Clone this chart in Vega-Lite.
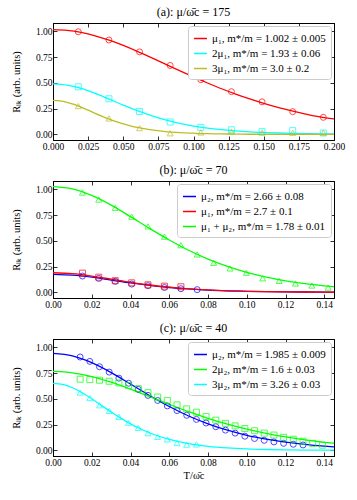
{
  "$schema": "https://vega.github.io/schema/vega-lite/v6.json",
  "padding": {"left": 10, "right": 4, "top": 5, "bottom": 4},
  "spacing": 12,
  "config": {
    "font": "Liberation Serif",
    "view": {"stroke": "black", "strokeWidth": 1},
    "axis": {"domainColor": "black", "domainWidth": 1, "tickColor": "black", "tickSize": -4, "tickWidth": 0.8, "labelFontSize": 9.5, "labelColor": "black", "grid": false, "labelFont": "Liberation Serif", "titleFont": "Liberation Serif", "titleFontWeight": "normal", "titleFontSize": 10.5, "titleColor": "black", "labelPadding": 5, "labelFlush": false, "labelOverlap": false},
    "legend": {"orient": "top-right", "offset": 3, "fillColor": "white", "strokeColor": "#cccccc", "padding": 5, "cornerRadius": 3, "symbolType": "stroke", "symbolStrokeWidth": 1.5, "symbolSize": 170, "labelFontSize": 11, "labelFont": "Liberation Serif", "labelColor": "black", "rowPadding": 2, "labelLimit": 300},
    "title": {"fontSize": 12, "fontWeight": "normal", "font": "Liberation Serif", "color": "black", "offset": 4}
  },
  "datasets": {
    "ca": [
      {"T": 0, "R": 1.015, "s": "a1"}, {"T": 0.01, "R": 1.008, "s": "a1"}, {"T": 0.02, "R": 0.988, "s": "a1"}, {"T": 0.03, "R": 0.956, "s": "a1"}, {"T": 0.04, "R": 0.913, "s": "a1"}, {"T": 0.05, "R": 0.862, "s": "a1"}, {"T": 0.06, "R": 0.805, "s": "a1"}, {"T": 0.07, "R": 0.744, "s": "a1"}, {"T": 0.08, "R": 0.681, "s": "a1"}, {"T": 0.09, "R": 0.618, "s": "a1"}, {"T": 0.1, "R": 0.557, "s": "a1"}, {"T": 0.11, "R": 0.498, "s": "a1"}, {"T": 0.12, "R": 0.442, "s": "a1"}, {"T": 0.13, "R": 0.391, "s": "a1"}, {"T": 0.14, "R": 0.344, "s": "a1"}, {"T": 0.15, "R": 0.301, "s": "a1"}, {"T": 0.16, "R": 0.262, "s": "a1"}, {"T": 0.17, "R": 0.228, "s": "a1"}, {"T": 0.18, "R": 0.197, "s": "a1"}, {"T": 0.19, "R": 0.170, "s": "a1"}, {"T": 0.2, "R": 0.150, "s": "a1"},
      {"T": 0, "R": 0.49, "s": "a2"}, {"T": 0.01, "R": 0.478, "s": "a2"}, {"T": 0.02, "R": 0.446, "s": "a2"}, {"T": 0.03, "R": 0.398, "s": "a2"}, {"T": 0.04, "R": 0.342, "s": "a2"}, {"T": 0.05, "R": 0.284, "s": "a2"}, {"T": 0.06, "R": 0.230, "s": "a2"}, {"T": 0.07, "R": 0.182, "s": "a2"}, {"T": 0.08, "R": 0.140, "s": "a2"}, {"T": 0.09, "R": 0.106, "s": "a2"}, {"T": 0.1, "R": 0.080, "s": "a2"}, {"T": 0.11, "R": 0.060, "s": "a2"}, {"T": 0.12, "R": 0.045, "s": "a2"}, {"T": 0.13, "R": 0.033, "s": "a2"}, {"T": 0.14, "R": 0.024, "s": "a2"}, {"T": 0.15, "R": 0.018, "s": "a2"}, {"T": 0.16, "R": 0.013, "s": "a2"}, {"T": 0.17, "R": 0.010, "s": "a2"}, {"T": 0.18, "R": 0.007, "s": "a2"}, {"T": 0.19, "R": 0.005, "s": "a2"}, {"T": 0.2, "R": 0.004, "s": "a2"},
      {"T": 0, "R": 0.33, "s": "a3"}, {"T": 0.005, "R": 0.325, "s": "a3"}, {"T": 0.01, "R": 0.311, "s": "a3"}, {"T": 0.015, "R": 0.290, "s": "a3"}, {"T": 0.02, "R": 0.264, "s": "a3"}, {"T": 0.025, "R": 0.2345, "s": "a3"}, {"T": 0.03, "R": 0.204, "s": "a3"}, {"T": 0.035, "R": 0.175, "s": "a3"}, {"T": 0.04, "R": 0.148, "s": "a3"}, {"T": 0.045, "R": 0.123, "s": "a3"}, {"T": 0.05, "R": 0.101, "s": "a3"}, {"T": 0.055, "R": 0.083, "s": "a3"}, {"T": 0.06, "R": 0.067, "s": "a3"}, {"T": 0.07, "R": 0.043, "s": "a3"}, {"T": 0.08, "R": 0.027, "s": "a3"}, {"T": 0.09, "R": 0.017, "s": "a3"}, {"T": 0.1, "R": 0.011, "s": "a3"}, {"T": 0.11, "R": 0.006, "s": "a3"}, {"T": 0.12, "R": 0.004, "s": "a3"}, {"T": 0.13, "R": 0.002, "s": "a3"}, {"T": 0.14, "R": 0.001, "s": "a3"}, {"T": 0.16, "R": 0.0005, "s": "a3"}, {"T": 0.18, "R": 0.0002, "s": "a3"}, {"T": 0.2, "R": 0.0001, "s": "a3"}
    ],
    "pa": [
      {"T": 0.018, "R": 0.995, "p": "a1"}, {"T": 0.0398, "R": 0.915, "p": "a1"}, {"T": 0.0616, "R": 0.80, "p": "a1"}, {"T": 0.0834, "R": 0.668, "p": "a1"}, {"T": 0.1052, "R": 0.530, "p": "a1"}, {"T": 0.127, "R": 0.414, "p": "a1"}, {"T": 0.1488, "R": 0.315, "p": "a1"}, {"T": 0.1706, "R": 0.220, "p": "a1"}, {"T": 0.1924, "R": 0.165, "p": "a1"},
      {"T": 0.018, "R": 0.461, "p": "a2"}, {"T": 0.0398, "R": 0.345, "p": "a2"}, {"T": 0.0616, "R": 0.221, "p": "a2"}, {"T": 0.0834, "R": 0.12, "p": "a2"}, {"T": 0.1052, "R": 0.068, "p": "a2"}, {"T": 0.127, "R": 0.044, "p": "a2"}, {"T": 0.1488, "R": 0.026, "p": "a2"}, {"T": 0.1706, "R": 0.036, "p": "a2"}, {"T": 0.1924, "R": 0.013, "p": "a2"},
      {"T": 0.018, "R": 0.274, "p": "a3"}, {"T": 0.0398, "R": 0.154, "p": "a3"}, {"T": 0.0616, "R": 0.06, "p": "a3"}, {"T": 0.0834, "R": 0.01, "p": "a3"}, {"T": 0.1052, "R": 0.018, "p": "a3"}, {"T": 0.127, "R": 0.028, "p": "a3"}, {"T": 0.1488, "R": 0.017, "p": "a3"}, {"T": 0.1706, "R": 0.015, "p": "a3"}, {"T": 0.1924, "R": 0.016, "p": "a3"}
    ],
    "cb": [
      {"T": 0, "R": 0.175, "s": "b1"}, {"T": 0.01, "R": 0.167, "s": "b1"}, {"T": 0.02, "R": 0.147, "s": "b1"}, {"T": 0.03, "R": 0.119, "s": "b1"}, {"T": 0.04, "R": 0.091, "s": "b1"}, {"T": 0.05, "R": 0.067, "s": "b1"}, {"T": 0.06, "R": 0.047, "s": "b1"}, {"T": 0.07, "R": 0.033, "s": "b1"}, {"T": 0.08, "R": 0.022, "s": "b1"}, {"T": 0.09, "R": 0.015, "s": "b1"}, {"T": 0.1, "R": 0.010, "s": "b1"}, {"T": 0.11, "R": 0.006, "s": "b1"}, {"T": 0.12, "R": 0.004, "s": "b1"}, {"T": 0.13, "R": 0.003, "s": "b1"}, {"T": 0.14, "R": 0.002, "s": "b1"}, {"T": 0.145, "R": 0.001, "s": "b1"},
      {"T": 0, "R": 0.19, "s": "b2"}, {"T": 0.01, "R": 0.181, "s": "b2"}, {"T": 0.02, "R": 0.158, "s": "b2"}, {"T": 0.03, "R": 0.128, "s": "b2"}, {"T": 0.04, "R": 0.097, "s": "b2"}, {"T": 0.05, "R": 0.071, "s": "b2"}, {"T": 0.06, "R": 0.050, "s": "b2"}, {"T": 0.07, "R": 0.034, "s": "b2"}, {"T": 0.08, "R": 0.023, "s": "b2"}, {"T": 0.09, "R": 0.015, "s": "b2"}, {"T": 0.1, "R": 0.010, "s": "b2"}, {"T": 0.11, "R": 0.006, "s": "b2"}, {"T": 0.12, "R": 0.004, "s": "b2"}, {"T": 0.13, "R": 0.003, "s": "b2"}, {"T": 0.14, "R": 0.002, "s": "b2"}, {"T": 0.145, "R": 0.001, "s": "b2"},
      {"T": 0, "R": 1.026, "s": "b3"}, {"T": 0.01, "R": 1.004, "s": "b3"}, {"T": 0.02, "R": 0.940, "s": "b3"}, {"T": 0.03, "R": 0.846, "s": "b3"}, {"T": 0.04, "R": 0.734, "s": "b3"}, {"T": 0.05, "R": 0.618, "s": "b3"}, {"T": 0.06, "R": 0.508, "s": "b3"}, {"T": 0.07, "R": 0.408, "s": "b3"}, {"T": 0.08, "R": 0.322, "s": "b3"}, {"T": 0.09, "R": 0.251, "s": "b3"}, {"T": 0.1, "R": 0.193, "s": "b3"}, {"T": 0.11, "R": 0.147, "s": "b3"}, {"T": 0.12, "R": 0.112, "s": "b3"}, {"T": 0.13, "R": 0.084, "s": "b3"}, {"T": 0.14, "R": 0.063, "s": "b3"}, {"T": 0.145, "R": 0.054, "s": "b3"}
    ],
    "pb": [
      {"T": 0.0152, "R": 0.158, "p": "b1"}, {"T": 0.0236, "R": 0.135, "p": "b1"}, {"T": 0.0321, "R": 0.107, "p": "b1"}, {"T": 0.0406, "R": 0.08, "p": "b1"}, {"T": 0.049, "R": 0.064, "p": "b1"}, {"T": 0.0575, "R": 0.047, "p": "b1"}, {"T": 0.066, "R": 0.035, "p": "b1"}, {"T": 0.0744, "R": 0.026, "p": "b1"},
      {"T": 0.0152, "R": 0.186, "p": "b2"}, {"T": 0.0236, "R": 0.147, "p": "b2"}, {"T": 0.0321, "R": 0.113, "p": "b2"}, {"T": 0.0406, "R": 0.092, "p": "b2"}, {"T": 0.049, "R": 0.073, "p": "b2"}, {"T": 0.0575, "R": 0.06, "p": "b2"}, {"T": 0.066, "R": 0.054, "p": "b2"},
      {"T": 0.0152, "R": 0.968, "p": "b3"}, {"T": 0.0236, "R": 0.90, "p": "b3"}, {"T": 0.0321, "R": 0.82, "p": "b3"}, {"T": 0.0406, "R": 0.734, "p": "b3"}, {"T": 0.049, "R": 0.64, "p": "b3"}, {"T": 0.0575, "R": 0.54, "p": "b3"}, {"T": 0.066, "R": 0.457, "p": "b3"}, {"T": 0.0744, "R": 0.367, "p": "b3"}, {"T": 0.0829, "R": 0.286, "p": "b3"}, {"T": 0.0913, "R": 0.232, "p": "b3"}, {"T": 0.0998, "R": 0.19, "p": "b3"}, {"T": 0.1082, "R": 0.136, "p": "b3"}, {"T": 0.1167, "R": 0.111, "p": "b3"}, {"T": 0.1251, "R": 0.086, "p": "b3"}, {"T": 0.1336, "R": 0.066, "p": "b3"}, {"T": 0.142, "R": 0.046, "p": "b3"}
    ],
    "cc": [
      {"T": 0, "R": 0.94, "s": "c1"}, {"T": 0.01, "R": 0.916, "s": "c1"}, {"T": 0.02, "R": 0.850, "s": "c1"}, {"T": 0.03, "R": 0.754, "s": "c1"}, {"T": 0.04, "R": 0.643, "s": "c1"}, {"T": 0.05, "R": 0.530, "s": "c1"}, {"T": 0.06, "R": 0.425, "s": "c1"}, {"T": 0.07, "R": 0.333, "s": "c1"}, {"T": 0.08, "R": 0.257, "s": "c1"}, {"T": 0.09, "R": 0.195, "s": "c1"}, {"T": 0.1, "R": 0.146, "s": "c1"}, {"T": 0.11, "R": 0.109, "s": "c1"}, {"T": 0.12, "R": 0.080, "s": "c1"}, {"T": 0.13, "R": 0.058, "s": "c1"}, {"T": 0.14, "R": 0.041, "s": "c1"}, {"T": 0.145, "R": 0.034, "s": "c1"},
      {"T": 0, "R": 0.765, "s": "c2"}, {"T": 0.01, "R": 0.752, "s": "c2"}, {"T": 0.02, "R": 0.716, "s": "c2"}, {"T": 0.03, "R": 0.661, "s": "c2"}, {"T": 0.04, "R": 0.594, "s": "c2"}, {"T": 0.05, "R": 0.520, "s": "c2"}, {"T": 0.06, "R": 0.446, "s": "c2"}, {"T": 0.07, "R": 0.375, "s": "c2"}, {"T": 0.08, "R": 0.311, "s": "c2"}, {"T": 0.09, "R": 0.254, "s": "c2"}, {"T": 0.1, "R": 0.206, "s": "c2"}, {"T": 0.11, "R": 0.165, "s": "c2"}, {"T": 0.12, "R": 0.130, "s": "c2"}, {"T": 0.13, "R": 0.101, "s": "c2"}, {"T": 0.14, "R": 0.078, "s": "c2"}, {"T": 0.145, "R": 0.069, "s": "c2"},
      {"T": 0, "R": 0.65, "s": "c3"}, {"T": 0.005, "R": 0.639, "s": "c3"}, {"T": 0.01, "R": 0.607, "s": "c3"}, {"T": 0.015, "R": 0.559, "s": "c3"}, {"T": 0.02, "R": 0.500, "s": "c3"}, {"T": 0.025, "R": 0.436, "s": "c3"}, {"T": 0.03, "R": 0.372, "s": "c3"}, {"T": 0.035, "R": 0.312, "s": "c3"}, {"T": 0.04, "R": 0.257, "s": "c3"}, {"T": 0.045, "R": 0.209, "s": "c3"}, {"T": 0.05, "R": 0.168, "s": "c3"}, {"T": 0.06, "R": 0.106, "s": "c3"}, {"T": 0.07, "R": 0.065, "s": "c3"}, {"T": 0.08, "R": 0.039, "s": "c3"}, {"T": 0.09, "R": 0.023, "s": "c3"}, {"T": 0.1, "R": 0.0135, "s": "c3"}, {"T": 0.11, "R": 0.008, "s": "c3"}, {"T": 0.12, "R": 0.0045, "s": "c3"}, {"T": 0.13, "R": 0.0026, "s": "c3"}, {"T": 0.14, "R": 0.0015, "s": "c3"}, {"T": 0.145, "R": 0.0011, "s": "c3"}
    ],
    "pc": [
      {"T": 0.014, "R": 0.905, "p": "c1"}, {"T": 0.019, "R": 0.863, "p": "c1"}, {"T": 0.024, "R": 0.811, "p": "c1"}, {"T": 0.029, "R": 0.759, "p": "c1"}, {"T": 0.034, "R": 0.700, "p": "c1"}, {"T": 0.039, "R": 0.651, "p": "c1"}, {"T": 0.044, "R": 0.592, "p": "c1"}, {"T": 0.049, "R": 0.533, "p": "c1"}, {"T": 0.054, "R": 0.484, "p": "c1"}, {"T": 0.059, "R": 0.431, "p": "c1"}, {"T": 0.064, "R": 0.386, "p": "c1"}, {"T": 0.069, "R": 0.34, "p": "c1"}, {"T": 0.074, "R": 0.30, "p": "c1"}, {"T": 0.079, "R": 0.265, "p": "c1"}, {"T": 0.084, "R": 0.229, "p": "c1"}, {"T": 0.089, "R": 0.196, "p": "c1"}, {"T": 0.094, "R": 0.167, "p": "c1"}, {"T": 0.099, "R": 0.137, "p": "c1"}, {"T": 0.104, "R": 0.115, "p": "c1"}, {"T": 0.109, "R": 0.097, "p": "c1"}, {"T": 0.114, "R": 0.082, "p": "c1"}, {"T": 0.119, "R": 0.068, "p": "c1"}, {"T": 0.124, "R": 0.059, "p": "c1"}, {"T": 0.129, "R": 0.052, "p": "c1"},
      {"T": 0.014, "R": 0.69, "p": "c2"}, {"T": 0.019, "R": 0.686, "p": "c2"}, {"T": 0.024, "R": 0.68, "p": "c2"}, {"T": 0.029, "R": 0.67, "p": "c2"}, {"T": 0.034, "R": 0.654, "p": "c2"}, {"T": 0.039, "R": 0.628, "p": "c2"}, {"T": 0.044, "R": 0.598, "p": "c2"}, {"T": 0.049, "R": 0.559, "p": "c2"}, {"T": 0.054, "R": 0.517, "p": "c2"}, {"T": 0.059, "R": 0.484, "p": "c2"}, {"T": 0.064, "R": 0.441, "p": "c2"}, {"T": 0.069, "R": 0.402, "p": "c2"}, {"T": 0.074, "R": 0.37, "p": "c2"}, {"T": 0.079, "R": 0.327, "p": "c2"}, {"T": 0.084, "R": 0.293, "p": "c2"}, {"T": 0.089, "R": 0.262, "p": "c2"}, {"T": 0.094, "R": 0.237, "p": "c2"}, {"T": 0.099, "R": 0.211, "p": "c2"}, {"T": 0.104, "R": 0.19, "p": "c2"}, {"T": 0.109, "R": 0.167, "p": "c2"}, {"T": 0.114, "R": 0.148, "p": "c2"}, {"T": 0.119, "R": 0.126, "p": "c2"}, {"T": 0.124, "R": 0.108, "p": "c2"}, {"T": 0.129, "R": 0.088, "p": "c2"}, {"T": 0.134, "R": 0.068, "p": "c2"}, {"T": 0.139, "R": 0.05, "p": "c2"},
      {"T": 0.014, "R": 0.56, "p": "c3"}, {"T": 0.019, "R": 0.507, "p": "c3"}, {"T": 0.024, "R": 0.437, "p": "c3"}, {"T": 0.029, "R": 0.382, "p": "c3"}, {"T": 0.034, "R": 0.325, "p": "c3"}, {"T": 0.039, "R": 0.268, "p": "c3"}, {"T": 0.044, "R": 0.218, "p": "c3"}, {"T": 0.049, "R": 0.166, "p": "c3"}, {"T": 0.054, "R": 0.131, "p": "c3"}, {"T": 0.059, "R": 0.106, "p": "c3"}, {"T": 0.064, "R": 0.07, "p": "c3"}, {"T": 0.069, "R": 0.055, "p": "c3"}, {"T": 0.074, "R": 0.057, "p": "c3"}
    ]
  },
  "vconcat": [
    {
      "width": 281, "height": 117,
      "title": "(a): μ/ω̄c = 175",
      "layer": [
        {
          "data": {"name": "ca"},
          "mark": {"type": "line", "strokeWidth": 1.3, "interpolate": "monotone"},
          "encoding": {
            "x": {"field": "T", "type": "quantitative", "scale": {"domain": [0, 0.2], "nice": false, "zero": false}, "axis": {"orient": "bottom", "values": [0, 0.025, 0.05, 0.075, 0.1, 0.125, 0.15, 0.175, 0.2], "format": ".3f", "title": null}},
            "y": {"field": "R", "type": "quantitative", "scale": {"domain": [-0.055, 1.08], "nice": false, "zero": false}, "axis": {"orient": "left", "values": [0, 0.25, 0.5, 0.75, 1], "format": ".2f", "title": "Rₗₖ (arb. units)", "titlePadding": 14}},
            "color": {"field": "s", "type": "nominal", "scale": {"domain": ["a1", "a2", "a3"], "range": ["#ff0000", "#00ffff", "#bcbd22"]}, "legend": {"title": null, "labelExpr": "datum.value == 'a1' ? 'μ₁, m*/m = 1.002 ± 0.005' : datum.value == 'a2' ? '2μ₁, m*/m = 1.93 ± 0.06' : '3μ₁, m*/m = 3.0 ± 0.2'"}}
          }
        },
        {
          "data": {"name": "pa"},
          "mark": {"type": "point", "filled": false, "strokeWidth": 1, "size": 36},
          "encoding": {
            "x": {"field": "T", "type": "quantitative", "axis": {"orient": "top", "values": [0, 0.025, 0.05, 0.075, 0.1, 0.125, 0.15, 0.175, 0.2], "labels": false, "title": null}},
            "y": {"field": "R", "type": "quantitative", "axis": {"orient": "right", "values": [0, 0.25, 0.5, 0.75, 1], "labels": false, "title": null}},
            "stroke": {"field": "p", "type": "nominal", "scale": {"domain": ["a1", "a2", "a3"], "range": ["#ff0000", "#00ffff", "#bcbd22"]}, "legend": null},
            "shape": {"field": "p", "type": "nominal", "scale": {"domain": ["a1", "a2", "a3"], "range": ["circle", "square", "triangle-up"]}, "legend": null}
          }
        }
      ],
      "resolve": {"axis": {"x": "independent", "y": "independent"}, "scale": {"stroke": "independent", "shape": "independent"}}
    },
    {
      "width": 281, "height": 117,
      "title": "(b): μ/ω̄c = 70",
      "layer": [
        {
          "data": {"name": "cb"},
          "mark": {"type": "line", "strokeWidth": 1.3, "interpolate": "monotone"},
          "encoding": {
            "x": {"field": "T", "type": "quantitative", "scale": {"domain": [0, 0.145], "nice": false, "zero": false}, "axis": {"orient": "bottom", "values": [0, 0.02, 0.04, 0.06, 0.08, 0.1, 0.12, 0.14], "format": ".2f", "title": null}},
            "y": {"field": "R", "type": "quantitative", "scale": {"domain": [-0.055, 1.08], "nice": false, "zero": false}, "axis": {"orient": "left", "values": [0, 0.25, 0.5, 0.75, 1], "format": ".2f", "title": "Rₗₖ (arb. units)", "titlePadding": 14}},
            "color": {"field": "s", "type": "nominal", "scale": {"domain": ["b1", "b2", "b3"], "range": ["#0000ff", "#ff0000", "#00ff00"]}, "legend": {"title": null, "labelExpr": "datum.value == 'b1' ? 'μ₂, m*/m = 2.66 ± 0.08' : datum.value == 'b2' ? 'μ₁, m*/m = 2.7 ± 0.1' : 'μ₁ + μ₂, m*/m = 1.78 ± 0.01'"}}
          }
        },
        {
          "data": {"name": "pb"},
          "mark": {"type": "point", "filled": false, "strokeWidth": 1, "size": 36},
          "encoding": {
            "x": {"field": "T", "type": "quantitative", "axis": {"orient": "top", "values": [0, 0.02, 0.04, 0.06, 0.08, 0.1, 0.12, 0.14], "labels": false, "title": null}},
            "y": {"field": "R", "type": "quantitative", "axis": {"orient": "right", "values": [0, 0.25, 0.5, 0.75, 1], "labels": false, "title": null}},
            "stroke": {"field": "p", "type": "nominal", "scale": {"domain": ["b1", "b2", "b3"], "range": ["#0000ff", "#ff0000", "#00ff00"]}, "legend": null},
            "shape": {"field": "p", "type": "nominal", "scale": {"domain": ["b1", "b2", "b3"], "range": ["circle", "square", "triangle-up"]}, "legend": null}
          }
        }
      ],
      "resolve": {"axis": {"x": "independent", "y": "independent"}, "scale": {"stroke": "independent", "shape": "independent"}}
    },
    {
      "width": 281, "height": 117,
      "title": "(c): μ/ω̄c = 40",
      "layer": [
        {
          "data": {"name": "cc"},
          "mark": {"type": "line", "strokeWidth": 1.3, "interpolate": "monotone"},
          "encoding": {
            "x": {"field": "T", "type": "quantitative", "scale": {"domain": [0, 0.145], "nice": false, "zero": false}, "axis": {"orient": "bottom", "values": [0, 0.02, 0.04, 0.06, 0.08, 0.1, 0.12, 0.14], "format": ".2f", "title": "T/ω̄c", "titlePadding": 4}},
            "y": {"field": "R", "type": "quantitative", "scale": {"domain": [-0.055, 1.08], "nice": false, "zero": false}, "axis": {"orient": "left", "values": [0, 0.25, 0.5, 0.75, 1], "format": ".2f", "title": "Rₗₖ (arb. units)", "titlePadding": 14}},
            "color": {"field": "s", "type": "nominal", "scale": {"domain": ["c1", "c2", "c3"], "range": ["#0000ff", "#00ff00", "#00ffff"]}, "legend": {"title": null, "labelExpr": "datum.value == 'c1' ? 'μ₂, m*/m = 1.985 ± 0.009' : datum.value == 'c2' ? '2μ₂, m*/m = 1.6 ± 0.03' : '3μ₂, m*/m = 3.26 ± 0.03'"}}
          }
        },
        {
          "data": {"name": "pc"},
          "mark": {"type": "point", "filled": false, "strokeWidth": 1, "size": 36},
          "encoding": {
            "x": {"field": "T", "type": "quantitative", "axis": {"orient": "top", "values": [0, 0.02, 0.04, 0.06, 0.08, 0.1, 0.12, 0.14], "labels": false, "title": null}},
            "y": {"field": "R", "type": "quantitative", "axis": {"orient": "right", "values": [0, 0.25, 0.5, 0.75, 1], "labels": false, "title": null}},
            "stroke": {"field": "p", "type": "nominal", "scale": {"domain": ["c1", "c2", "c3"], "range": ["#0000ff", "#00ff00", "#00ffff"]}, "legend": null},
            "shape": {"field": "p", "type": "nominal", "scale": {"domain": ["c1", "c2", "c3"], "range": ["circle", "square", "triangle-up"]}, "legend": null}
          }
        }
      ],
      "resolve": {"axis": {"x": "independent", "y": "independent"}, "scale": {"stroke": "independent", "shape": "independent"}}
    }
  ],
  "resolve": {"scale": {"x": "independent", "y": "independent", "color": "independent", "stroke": "independent", "shape": "independent"}, "legend": {"color": "independent"}}
}
